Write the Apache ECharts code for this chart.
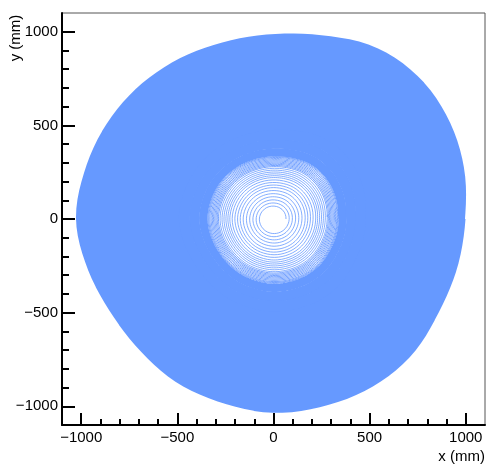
<!DOCTYPE html>
<html>
<head>
<meta charset="utf-8">
<script src="https://cdn.jsdelivr.net/npm/echarts@6/dist/echarts.min.js"></script>
<style>
  html, body { margin: 0; padding: 0; background: #fff; }
  #chart { width: 486px; height: 465px; }
</style>
</head>
<body>
<div id="chart"></div>
<script>
// spiral radius (mm) read at some turn counts, from the center outwards
const turnMarks = [0, 3, 6, 10, 16, 24, 33, 50, 100, 180, 250];
const turnRadius = [65, 115, 165, 220, 280, 330, 370, 430, 570, 800, 1000];
// outer rim radius (mm) read every 15 degrees
const rimAngles = [0, 15, 30, 45, 60, 75, 90, 105, 120, 135, 150, 165, 180, 195, 210, 225, 240, 255, 270, 285, 300, 315, 330, 345];
const rimRadius = [994, 1025, 1052, 1068, 1057, 1012, 985, 977, 984, 994, 1003, 1012, 1024, 1000, 980, 984, 1004, 1014, 1031, 1029, 1029, 1017, 989, 986];
const stepsPerTurn = 131.7;

// the line gets drawn a bit heavier going outwards so the dense part reads solid
const bandStart = [0, 16, 26, 36, 50, 70];
const bandWidth = [0.8, 0.9, 1.05, 1.25, 1.5, 1.8];

const majorTicks = [-1000, -500, 0, 500, 1000];
const minorTicks = [-1000, -900, -800, -700, -600, -500, -400, -300, -200, -100, 0, 100, 200, 300, 400, 500, 600, 700, 800, 900, 1000];

function lerp(xs, ys, v) {
  if (v <= xs[0]) return ys[0];
  for (let i = 1; i < xs.length; i++) {
    if (v <= xs[i]) {
      let k = (v - xs[i - 1]) / (xs[i] - xs[i - 1]);
      return ys[i - 1] + k * (ys[i] - ys[i - 1]);
    }
  }
  return ys[ys.length - 1];
}

// periodic catmull-rom through the rim readings
function rimAt(deg) {
  let n = rimAngles.length;
  let i = Math.floor(deg / 15) % n;
  let k = deg / 15 - Math.floor(deg / 15);
  let p0 = rimRadius[(i - 1 + n) % n], p1 = rimRadius[i];
  let p2 = rimRadius[(i + 1) % n], p3 = rimRadius[(i + 2) % n];
  return 0.5 * (2 * p1 + (-p0 + p2) * k + (2 * p0 - 5 * p1 + 4 * p2 - p3) * k * k + (-p0 + 3 * p1 - 3 * p2 + p3) * k * k * k);
}

function spiralPoint(t) {
  let a = t * 2 * Math.PI;
  let deg = (t - Math.floor(t)) * 360;
  let r = lerp(turnMarks, turnRadius, t);
  let blend = Math.min(1, r / 600);
  let f = 1 + (rimAt(deg) / 1000 - 1) * blend;
  return [r * f * Math.cos(a), r * f * Math.sin(a)];
}

let lastTurn = turnMarks[turnMarks.length - 1];
let bands = bandStart.map(() => []);
let nSteps = Math.ceil(lastTurn * stepsPerTurn);
for (let s = 0; s <= nSteps; s++) {
  let t = Math.min(lastTurn, s / stepsPerTurn);
  let p = spiralPoint(t);
  for (let b = 0; b < bandStart.length; b++) {
    let end = b + 1 < bandStart.length ? bandStart[b + 1] : lastTurn;
    if (t >= bandStart[b] && t <= end + 0.02) bands[b].push(p);
  }
}

const fontName = 'Liberation Sans';
const minus = v => String(v).replace('-', '\u2212');

let chart = echarts.init(document.getElementById('chart'), null, {renderer: 'canvas'});

let option = {
  animation: false,
  grid: {
    left: 62, right: 1, top: 13, bottom: 40,
    show: true, borderColor: '#555', borderWidth: 1
  },
  xAxis: [{
    type: 'value', min: -1100, max: 1100, position: 'bottom',
    splitLine: {show: false},
    axisLine: {onZero: false, lineStyle: {color: '#000', width: 2}},
    axisTick: {inside: true, length: 12, customValues: majorTicks, lineStyle: {color: '#000', width: 2}},
    axisLabel: {customValues: majorTicks, formatter: minus, color: '#000', fontSize: 15, fontFamily: fontName, margin: 5}
  }, {
    type: 'value', min: -1100, max: 1100, position: 'bottom',
    splitLine: {show: false},
    axisLine: {show: false, onZero: false},
    axisTick: {inside: true, length: 6, customValues: minorTicks, lineStyle: {color: '#000', width: 2}},
    axisLabel: {show: false}
  }],
  yAxis: [{
    type: 'value', min: -1100, max: 1100, position: 'left',
    splitLine: {show: false},
    axisLine: {onZero: false, lineStyle: {color: '#000', width: 2}},
    axisTick: {inside: true, length: 13, customValues: majorTicks, lineStyle: {color: '#000', width: 2}},
    axisLabel: {customValues: majorTicks, formatter: minus, color: '#000', fontSize: 15, fontFamily: fontName, margin: 4}
  }, {
    type: 'value', min: -1100, max: 1100, position: 'left',
    splitLine: {show: false},
    axisLine: {show: false, onZero: false},
    axisTick: {inside: true, length: 7, customValues: minorTicks, lineStyle: {color: '#000', width: 2}},
    axisLabel: {show: false}
  }],
  graphic: [{
    type: 'text', x: 16, y: 38, rotation: Math.PI / 2,
    style: {text: 'y (mm)', font: '15px "Liberation Sans"', fill: '#000', align: 'center', verticalAlign: 'middle'}
  }, {
    type: 'text', right: 1, top: 449,
    style: {text: 'x (mm)', font: '15px "Liberation Sans"', fill: '#000'}
  }],
  series: bands.map((pts, b) => ({
    type: 'line',
    data: pts,
    showSymbol: false,
    symbol: 'none',
    clip: true,
    lineStyle: {color: '#6699ff', width: bandWidth[b]}
  }))
};

chart.setOption(option);
</script>
</body>
</html>
